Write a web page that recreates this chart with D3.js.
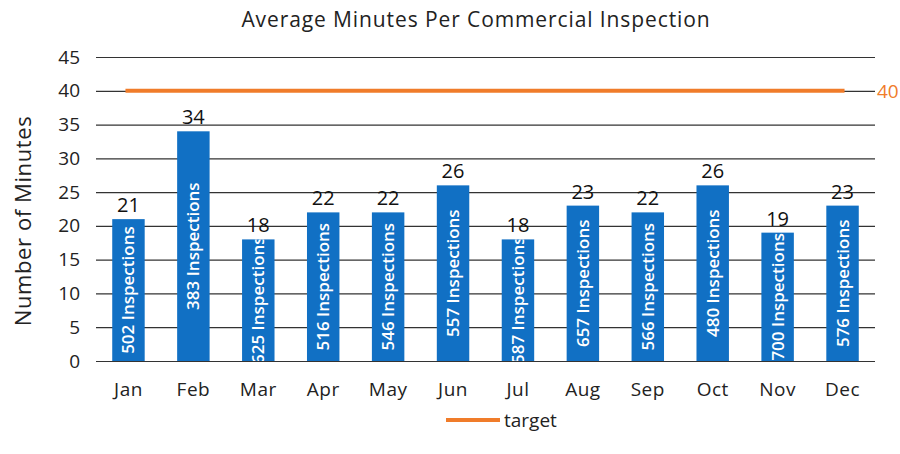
<!DOCTYPE html>
<html lang="en">
<head>
<meta charset="UTF-8">
<title>Average Minutes Per Commercial Inspection</title>
<script src="https://cdn.jsdelivr.net/npm/d3@7"></script>
<style>
    body { margin: 0; background: #fff; }
    svg { display: block; font-family: "Open Sans", "Liberation Sans", sans-serif; }
</style>
</head>
<body>
<script>
    // ---- data ----
    const months = ["Jan", "Feb", "Mar", "Apr", "May", "Jun", "Jul", "Aug", "Sep", "Oct", "Nov", "Dec"];
    const minutes = [21, 34, 18, 22, 22, 26, 18, 23, 22, 26, 19, 23];
    const inspections = [502, 383, 625, 516, 546, 557, 587, 657, 566, 480, 700, 576];
    const target = 40;
    const yTicks = [0, 5, 10, 15, 20, 25, 30, 35, 40, 45];

    const width = 900, height = 454;
    const fontFam = "Open Sans, Liberation Sans, sans-serif";
    const svg = d3.select("body").append("svg")
        .attr("width", width)
        .attr("height", height);

    // ---- scales ----
    const x = d3.scaleBand()
        .domain(months)
        .range([96, 875])
        .paddingInner(0.5)
        .paddingOuter(0.25);

    const y = d3.scaleLinear()
        .domain([0, 45])
        .range([361, 57]);

    // title
    svg.append("text")
        .attr("x", 476).attr("y", 27)
        .attr("text-anchor", "middle")
        .attr("font-size", 21)
        .attr("letter-spacing", 0.9)
        .attr("fill", "#222")
        .text("Average Minutes Per Commercial Inspection");

    // y axis label
    svg.append("text")
        .attr("transform", "translate(31,221) rotate(-90)")
        .attr("text-anchor", "middle")
        .attr("font-size", 22)
        .attr("letter-spacing", 0.6)
        .attr("fill", "#222")
        .text("Number of Minutes");

    // gridlines + tick labels
    const yAxis = svg.append("g")
        .attr("transform", "translate(96,0)")
        .call(d3.axisLeft(y).tickValues(yTicks).tickSize(-779).tickPadding(16));
    yAxis.select(".domain").remove();
    yAxis.selectAll(".tick line").attr("stroke", "#333").attr("stroke-width", 1.2);
    yAxis.selectAll(".tick text")
        .attr("font-size", 19)
        .attr("fill", "#222")
        .attr("font-family", fontFam);

    // category labels
    const xAxis = svg.append("g")
        .attr("transform", "translate(0,361)")
        .call(d3.axisBottom(x).tickSize(0).tickPadding(22));
    xAxis.select(".domain").remove();
    xAxis.selectAll(".tick text")
        .attr("font-size", 19)
        .attr("letter-spacing", 0.5)
        .attr("fill", "#222")
        .attr("font-family", fontFam);

    // bars
    const bars = svg.append("g").selectAll("g")
        .data(months)
        .join("g");

    const defs = svg.append("defs");
    months.forEach((m, i) => {
        defs.append("clipPath").attr("id", "clip" + i)
            .append("rect")
            .attr("x", x(m))
            .attr("y", y(minutes[i]))
            .attr("width", x.bandwidth())
            .attr("height", y(0) - y(minutes[i]));
    });

    bars.append("rect")
        .attr("x", d => x(d))
        .attr("y", (d, i) => y(minutes[i]))
        .attr("width", x.bandwidth())
        .attr("height", (d, i) => y(0) - y(minutes[i]))
        .attr("fill", "#1170c4");

    // value labels above bars
    bars.append("text")
        .attr("x", d => x(d) + x.bandwidth() / 2)
        .attr("y", (d, i) => y(minutes[i]) - 7)
        .attr("text-anchor", "middle")
        .attr("font-size", 20)
        .attr("fill", "#111")
        .text((d, i) => minutes[i]);

    // inspection labels inside bars, centred and clipped to the bar
    bars.append("g")
        .attr("clip-path", (d, i) => "url(#clip" + i + ")")
        .append("text")
        .attr("font-size", 17)
        .attr("font-weight", 600)
        .attr("fill", "#fff")
        .attr("text-anchor", "middle")
        .attr("transform", (d, i) => {
            const cy = (y(minutes[i]) + y(0)) / 2;
            const cx = x(d) + x.bandwidth() / 2 + 6;
            return `translate(${cx},${cy}) rotate(-90)`;
        })
        .text((d, i) => inspections[i] + " Inspections");

    // target line
    const tx0 = x(months[0]) + x.bandwidth() / 2 - 3;
    const tx1 = x(months[months.length - 1]) + x.bandwidth() / 2 + 2;
    svg.append("line")
        .attr("x1", tx0).attr("x2", tx1)
        .attr("y1", y(target)).attr("y2", y(target))
        .attr("stroke", "#f07c2a")
        .attr("stroke-width", 4);

    svg.append("text")
        .attr("x", 877).attr("y", y(target) + 7)
        .attr("font-size", 19)
        .attr("fill", "#f07c2a")
        .text(target);

    // legend
    svg.append("line")
        .attr("x1", 446).attr("x2", 500)
        .attr("y1", 420).attr("y2", 420)
        .attr("stroke", "#f07c2a")
        .attr("stroke-width", 4);
    svg.append("text")
        .attr("x", 504).attr("y", 427)
        .attr("font-size", 19)
        .attr("fill", "#222")
        .text("target");
</script>
</body>
</html>
